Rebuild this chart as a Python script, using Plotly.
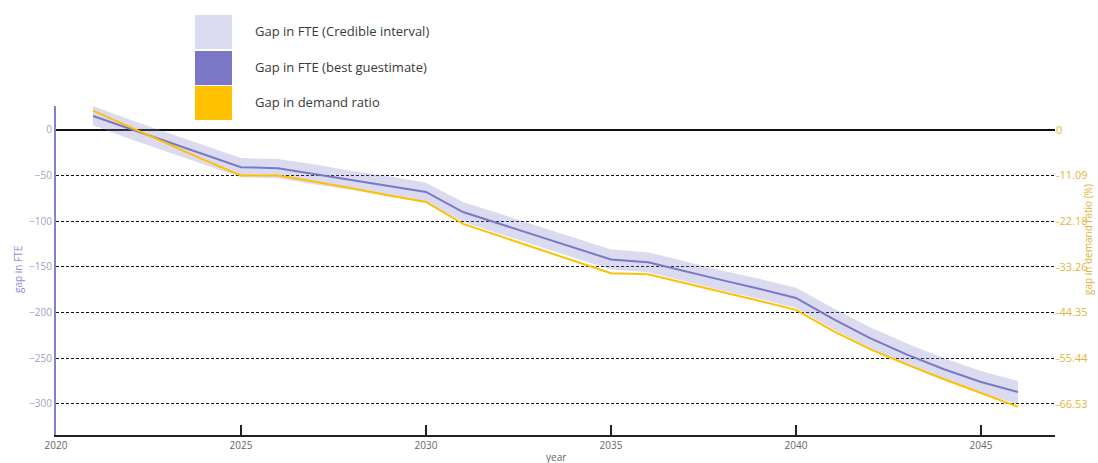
import plotly.graph_objects as go

years = list(range(2021, 2047))
fte_best = [15, 1, -13, -27, -41, -42, -48.5, -55, -61.5, -68, -90, -103, -116, -129, -142,
            -145, -155, -164.5, -174, -184, -207, -228, -246, -262, -276, -287]
fte_upper = [26, 11, -3, -17, -31, -32, -38, -45, -51, -58, -79, -92, -105, -118, -131,
             -134, -144, -154, -163, -173, -195, -216, -234, -250, -264, -275]
fte_lower = [5, -10, -24, -38, -52, -53, -60, -66, -73, -79, -101, -114, -127, -140, -153,
             -156, -166, -176, -185, -195, -218, -239, -258, -274, -288, -300]
demand_ratio = [4.66, 0.67, -3.33, -7.32, -11.09, -11.09, -12.64, -14.19, -15.97, -17.52,
                -22.84, -25.84, -28.83, -31.83, -34.82, -35.04, -37.26, -39.37, -41.47,
                -43.69, -48.79, -53.23, -57.00, -60.55, -63.87, -67.20]

fte_ticks = [0, -50, -100, -150, -200, -250, -300]
ratio_ticks = [0, -11.0875, -22.175, -33.2625, -44.35, -55.4375, -66.525]
ratio_tick_text = ["0", "-11.09", "-22.18", "-33.26", "-44.35", "-55.44", "-66.53"]
x_ticks = [2020, 2025, 2030, 2035, 2040, 2045]

legend_labels = ["Gap in FTE (Credible interval)", "Gap in FTE (best guestimate)", "Gap in demand ratio"]
legend_colors = ["#dcdcf0", "#7b77c7", "#ffc000"]

Y_RANGE = [-334, 26]
RATIO_PER_FTE = 11.0875 / 50
Y2_RANGE = [Y_RANGE[0] * RATIO_PER_FTE, Y_RANGE[1] * RATIO_PER_FTE]

W, H = 1098, 463
ML, MR, MT, MB = 56, 43, 106, 28
PW, PH = W - ML - MR, H - MT - MB


def px_x(px):
    return (px - ML) / PW


def px_y(py):
    return (H - MB - py) / PH


fig = go.Figure()
fig.add_trace(go.Scatter(x=years, y=fte_lower, mode="lines", line=dict(width=0),
                         hoverinfo="skip", showlegend=False))
fig.add_trace(go.Scatter(x=years, y=fte_upper, mode="lines", line=dict(width=0),
                         fill="tonexty", fillcolor="rgba(123,123,200,0.27)",
                         name=legend_labels[0], showlegend=False))
fig.add_trace(go.Scatter(x=years, y=fte_best, mode="lines",
                         line=dict(color="#7b77c7", width=2),
                         name=legend_labels[1], showlegend=False))
fig.add_trace(go.Scatter(x=years, y=demand_ratio, mode="lines", yaxis="y2",
                         line=dict(color="#ffc000", width=2),
                         name=legend_labels[2], showlegend=False))

# custom legend with large squares
row_tops = [15, 51, 86]
for i, (lab, col) in enumerate(zip(legend_labels, legend_colors)):
    top = row_tops[i]
    fig.add_shape(type="rect", xref="paper", yref="paper",
                  x0=px_x(195), x1=px_x(232), y0=px_y(top + 34), y1=px_y(top),
                  fillcolor=col, line=dict(width=0), layer="above")
    fig.add_annotation(xref="paper", yref="paper", x=px_x(253), y=px_y(top + 16),
                       text=lab, showarrow=False, xanchor="left", yanchor="middle",
                       font=dict(family="Open Sans", size=13, color="#3a3a3a"))

fig.add_annotation(xref="paper", yref="paper", x=px_x(1088), y=px_y(240),
                   text="gap in demand ratio (%)", textangle=-90, showarrow=False,
                   xanchor="center", yanchor="middle",
                   font=dict(family="Open Sans", size=10, color="#e3b43c"))
fig.add_annotation(xref="paper", yref="paper", x=px_x(18), y=px_y(270),
                   text="gap in FTE", textangle=-90, showarrow=False,
                   xanchor="center", yanchor="middle",
                   font=dict(family="Open Sans", size=10, color="#9090d0"))
fig.add_annotation(xref="paper", yref="paper", x=px_x(556), y=px_y(457),
                   text="year", showarrow=False,
                   xanchor="center", yanchor="middle",
                   font=dict(family="Open Sans", size=10, color="#666"))

fig.update_layout(
    width=W, height=H,
    margin=dict(l=ML, r=MR, t=MT, b=MB, pad=0, autoexpand=False),
    paper_bgcolor="white", plot_bgcolor="white",
    showlegend=False,
    font=dict(family="Open Sans"),
    xaxis=dict(range=[2020, 2047], tickvals=x_ticks, ticks="inside", ticklen=10,
               tickwidth=1.5, tickcolor="#222", showline=True, linecolor="#222",
               linewidth=2, showgrid=False, zeroline=False, automargin=False,
               tickfont=dict(size=10, color="#666")),
    yaxis=dict(range=Y_RANGE, tickvals=fte_ticks, showline=True, linecolor="#8080cc",
               linewidth=2, showgrid=True, gridcolor="#111", gridwidth=1.3,
               griddash="3px,2px", zeroline=True, zerolinecolor="#111", zerolinewidth=1.5,
               ticks="", automargin=False, tickfont=dict(size=10, color="#a0a0cc")),
    yaxis2=dict(range=Y2_RANGE, overlaying="y", side="right", tickvals=ratio_ticks,
                ticktext=ratio_tick_text, showgrid=False, zeroline=False, showline=False,
                ticks="", automargin=False, tickfont=dict(size=11, color="#e3b43c")),
)

fig.write_html("out.html", config={"displayModeBar": False},
               post_script="document.body.style.margin='0px';document.body.style.overflow='hidden';")
